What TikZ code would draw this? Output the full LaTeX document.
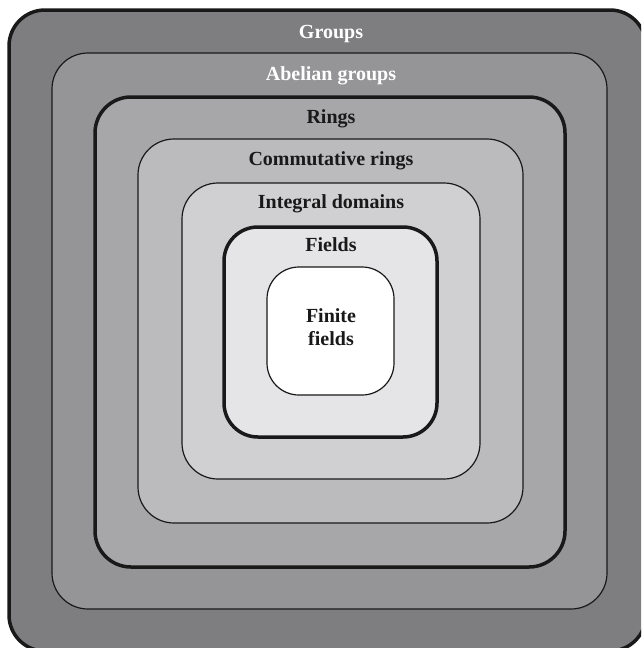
\documentclass[tikz,border=0pt]{standalone}
\usepackage{fontspec}
\setmainfont{Liberation Serif}
\begin{document}
\begin{tikzpicture}[x=1pt,y=-1pt,
  thickbox/.style={draw=black!90, line width=3.5pt, rounded corners=36pt},
  thinbox/.style={draw=black!90, line width=1.2pt, rounded corners=36pt},
  lbl/.style={anchor=base, font=\fontsize{20}{23}\selectfont\bfseries, inner sep=0pt},
  wlbl/.style={lbl, text=white},
  blbl/.style={lbl, text=black!90}]
\definecolor{cA}{RGB}{126,126,129}
\definecolor{cB}{RGB}{149,149,152}
\definecolor{cC}{RGB}{167,167,170}
\definecolor{cD}{RGB}{187,187,190}
\definecolor{cE}{RGB}{208,208,210}
\definecolor{cF}{RGB}{229,229,231}
\useasboundingbox (0,0) rectangle (641,648);
\clip (0,0) rectangle (641,648);
\draw[thickbox, fill=cA] (9,10) rectangle (646,651);
\draw[thinbox, fill=cB] (52,53) rectangle (607,609);
\draw[thickbox, fill=cC] (95,97) rectangle (565,567);
\draw[thinbox, fill=cD] (138,139) rectangle (523,523);
\draw[thinbox, fill=cE] (182,183) rectangle (480,479);
\draw[thickbox, fill=cF, rounded corners=34pt] (224,227) rectangle (437,437);
\draw[thinbox, fill=white, rounded corners=32pt] (267,267) rectangle (394,395);
\node[wlbl] (groups) at (331,38) {Groups};
\node[wlbl] (abelian) at (331,80) {Abelian groups};
\node[blbl] (rings) at (331,123) {Rings};
\node[blbl] (comm) at (331,165) {Commutative rings};
\node[blbl] (integral) at (331,208) {Integral domains};
\node[blbl] (fields) at (331,251) {Fields};
\node[blbl] (finite1) at (331,322) {Finite};
\node[blbl] (finite2) at (331,345) {fields};
\end{tikzpicture}
\end{document}
